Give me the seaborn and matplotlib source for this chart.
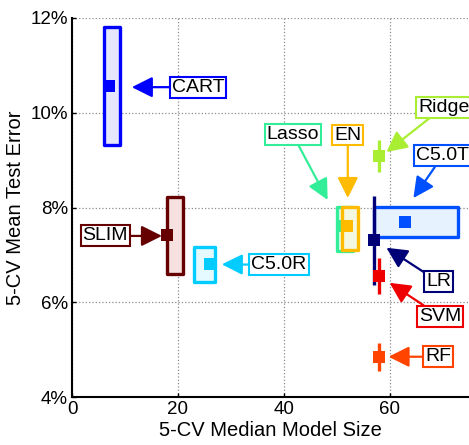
import numpy as np
import pandas as pd
import matplotlib
matplotlib.use("Agg")
import matplotlib.pyplot as plt
from matplotlib.patches import Rectangle
import seaborn as sns

# model summary: size range / median, test error range / mean (in %)
models   = ['CART', 'SLIM', 'C5.0R', 'Lasso', 'EN', 'Ridge', 'C5.0T', 'LR', 'SVM', 'RF']
size_min = [6, 18, 23, 50, 51, 58, 57, 57, 58, 58]
size_max = [9, 21, 27, 53, 54, 58, 73, 57, 58, 58]
size_med = [7, 18, 26, 51, 52, 58, 63, 57, 58, 58]
err_min  = [9.31, 6.59, 6.42, 7.08, 7.10, 8.74, 7.37, 6.37, 6.17, 4.54]
err_max  = [11.80, 8.23, 7.16, 8.02, 8.02, 9.42, 8.02, 8.24, 6.93, 5.13]
err_mean = [10.57, 7.41, 6.80, 7.60, 7.61, 9.09, 7.70, 7.32, 6.55, 4.85]

df = pd.DataFrame({'model': models, 'smin': size_min, 'smax': size_max, 'smed': size_med,
                   'emin': err_min, 'emax': err_max, 'emean': err_mean})

# colours (edge, fill)
edge = {'CART': '#0000ff', 'SLIM': '#660000', 'C5.0R': '#00ccff', 'Lasso': '#33ee99',
        'EN': '#ffbb00', 'Ridge': '#aaee33', 'C5.0T': '#0050ff', 'LR': '#000077',
        'SVM': '#ee0000', 'RF': '#ff4400'}
fill = {'CART': '#e6e6ff', 'SLIM': '#f6e0e0', 'C5.0R': '#e4faff', 'Lasso': '#e6fbef',
        'EN': '#f5f8e0', 'Ridge': '#f0fbe0', 'C5.0T': '#e6f3ff', 'LR': '#e0e0f0',
        'SVM': '#fde0e0', 'RF': '#ffe8e0'}

# label centre and arrow tip, data coords
lab_pos = {'CART': (23.8, 10.54), 'SLIM': (6.3, 7.40), 'C5.0R': (39.1, 6.79),
           'Lasso': (41.7, 9.54), 'EN': (52.1, 9.53), 'Ridge': (70.2, 10.12),
           'C5.0T': (70.0, 9.09), 'LR': (69.3, 6.43), 'SVM': (69.6, 5.70), 'RF': (69.2, 4.85)}
tip_pos = {'CART': (11.3, 10.54), 'SLIM': (17.0, 7.40), 'C5.0R': (28.3, 6.80),
           'Lasso': (48.3, 8.16), 'EN': (52.1, 8.20), 'Ridge': (59.4, 9.17),
           'C5.0T': (64.5, 8.20), 'LR': (59.4, 7.15), 'SVM': (60.0, 6.41), 'RF': (59.8, 4.85)}

sns.set_style("white")
plt.rcParams['font.family'] = ['Liberation Sans', 'DejaVu Sans']
plt.rcParams['text.color'] = 'black'
plt.rcParams['axes.labelcolor'] = 'black'

fig = plt.figure(figsize=(4.69, 4.45), dpi=100)
ax = fig.add_axes([72/469, 48/445, 397/469, 379/445])

# each model: fill, then its marker, then the box outline
z = 2
for m in models:
    r = df[df.model == m]
    row = r.iloc[0]
    ax.add_patch(Rectangle((row.smin, row.emin), row.smax - row.smin, row.emax - row.emin,
                           facecolor=fill[m], edgecolor='none', zorder=z))
    sns.scatterplot(data=r, x='smed', y='emean', color=edge[m], marker='s',
                    s=80, linewidth=0, legend=False, ax=ax, zorder=z + 0.01)
    ax.add_patch(Rectangle((row.smin, row.emin), row.smax - row.smin, row.emax - row.emin,
                           facecolor='none', edgecolor=edge[m], lw=2.4,
                           joinstyle='round', zorder=z + 0.02))
    z += 0.1

for m in models:
    ax.annotate(m, xy=tip_pos[m], xytext=lab_pos[m], ha='center', va='center',
                fontsize=14, annotation_clip=False, zorder=10,
                bbox=dict(boxstyle='square,pad=0.1', fc='white', ec=edge[m], lw=1.5),
                arrowprops=dict(arrowstyle='-|>,head_length=0.9,head_width=0.45',
                                color=edge[m], lw=1.6, shrinkA=0, shrinkB=0))

ax.set_xlim(0, 75)
ax.set_ylim(4, 12)
ax.set_xticks([0, 20, 40, 60])
ax.set_yticks([4, 6, 8, 10, 12])
ax.set_yticklabels(['4%', '6%', '8%', '10%', '12%'])
ax.grid(True, linestyle=':', color='0.55', lw=0.9)
ax.set_axisbelow(True)
sns.despine(ax=ax)
for s in ['left', 'bottom']:
    ax.spines[s].set_color('black')
    ax.spines[s].set_linewidth(1.5)
ax.tick_params(direction='in', length=3, width=1, labelsize=13.5, pad=3, colors='black',
               left=True, bottom=True)
ax.set_xlabel('5-CV Median Model Size', fontsize=14.5, labelpad=2)
ax.set_ylabel('5-CV Mean Test Error', fontsize=14.5, labelpad=4)

fig.savefig('out.png', dpi=100)
